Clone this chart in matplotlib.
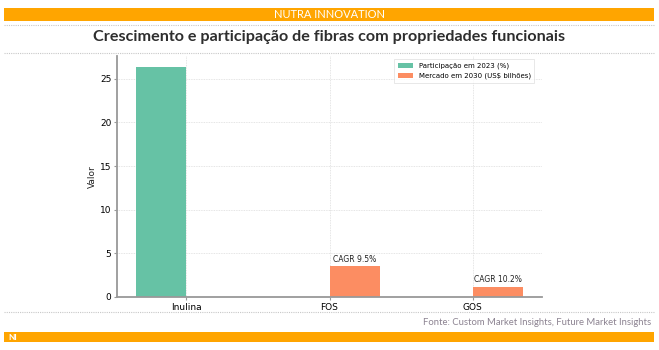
import matplotlib

matplotlib.use("Agg")
import matplotlib.pyplot as plt  # noqa: E402
import numpy as np  # noqa: E402
from matplotlib.lines import Line2D  # noqa: E402
from matplotlib.patches import Rectangle  # noqa: E402

plt.rcParams["font.family"] = ["Lato", "DejaVu Sans"]

ORANGE_BAND = "#ffa500"
GREEN = "#66c2a5"
CORAL = "#fc8d62"
INK = "#333333"
SOURCE = "#8c8391"
DOTS = "#c8c8c8"

categories = ["Inulina", "FOS", "GOS"]
share_2023 = [26.3, 0, 0]          # Participação em 2023 (%)
market_2030 = [0, 3.5, 1.2]        # Mercado em 2030 (US$ bilhões)
cagr_labels = ["", "CAGR 9.5%", "CAGR 10.2%"]

fig = plt.figure(figsize=(6.59, 3.5), dpi=100)
fig.patch.set_facecolor("white")

# header / footer chrome
fig.add_artist(Rectangle((4 / 659, 1 - 21 / 350), 650 / 659, 13 / 350,
                         transform=fig.transFigure, color=ORANGE_BAND, lw=0))
fig.text(0.5, 1 - 14.5 / 350, "NUTRA INNOVATION", color="white", fontsize=8,
         ha="center", va="center")
fig.text(0.5, 1 - 37 / 350, "Crescimento e participação de fibras com propriedades funcionais",
         color="#2e2e2e", fontsize=11.6, fontweight="bold", ha="center", va="center")
for y in (25, 53, 312):
    fig.add_artist(Line2D([4 / 659, 654 / 659], [1 - y / 350] * 2, transform=fig.transFigure,
                          color=DOTS, lw=0.8, linestyle=(0, (1, 1))))
fig.text(651 / 659, 1 - 322.5 / 350,
         "Fonte: Custom Market Insights, Future Market Insights",
         color=SOURCE, fontsize=6.8, ha="right", va="center")
fig.add_artist(Rectangle((4 / 659, 1 - 342 / 350), 650 / 659, 10 / 350,
                         transform=fig.transFigure, color=ORANGE_BAND, lw=0))
fig.text(8 / 659, 1 - 337 / 350, "NI", color="white", fontsize=6, fontweight="bold",
         ha="left", va="center")

ax = fig.add_axes([117 / 659, 1 - 297 / 350, 425 / 659, 241 / 350])
x = np.arange(len(categories))
width = 0.35
ax.bar(x - width / 2, share_2023, width, color=GREEN, label="Participação em 2023 (%)")
bars = ax.bar(x + width / 2, market_2030, width, color=CORAL, label="Mercado em 2030 (US$ bilhões)")
for rect, text in zip(bars, cagr_labels):
    if text:
        ax.text(rect.get_x() + rect.get_width() / 2, rect.get_height() + 0.25, text,
                ha="center", va="bottom", fontsize=5.5, color="#222222",
                family=["DejaVu Sans"])

ax.set_xticks(x)
ax.set_xticklabels(categories)
ax.set_ylim(0, 27.6)
ax.set_ylabel("Valor", fontsize=6.5, color="#222222", family=["DejaVu Sans"], labelpad=2)
ax.tick_params(labelsize=6.5, length=2, color="#999999", pad=2)
for lab in ax.get_xticklabels() + ax.get_yticklabels():
    lab.set_family(["DejaVu Sans"])
ax.grid(color="#dcdcdc", linewidth=0.6, linestyle=(0, (1, 1)))
ax.set_axisbelow(True)
for side in ("top", "right"):
    ax.spines[side].set_visible(False)
for side in ("left", "bottom"):
    ax.spines[side].set_color("#999999")
    ax.spines[side].set_linewidth(1.3)
leg = ax.legend(loc="upper right", frameon=True, fancybox=False,
                prop={"family": "DejaVu Sans", "size": 5}, borderpad=0.5,
                handlelength=2.2, bbox_to_anchor=(0.99, 1.0))
leg.get_frame().set_edgecolor("#dddddd")
leg.get_frame().set_linewidth(0.6)

fig.savefig("out.png", dpi=100)
